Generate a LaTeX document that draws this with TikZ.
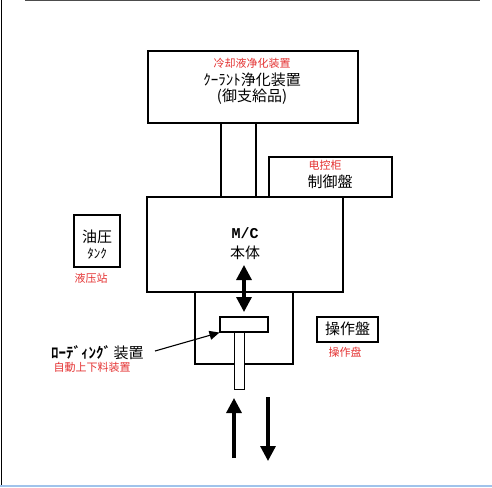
\documentclass[tikz,border=0pt]{standalone}
\usepackage{fontspec}
\setmainfont{Noto Sans CJK JP}
\newfontfamily\jpfont{Noto Sans CJK JP}
\newfontfamily\jpbfont{Noto Sans CJK JP Bold}
\newfontfamily\scfont{Noto Sans CJK SC}
\newfontfamily\monofont{Liberation Mono}
\usetikzlibrary{arrows.meta}
\definecolor{lbl}{RGB}{228,50,50}
\definecolor{edge}{RGB}{160,195,235}
\tikzset{
  box/.style={draw=black, line width=1.1pt, fill=white, inner sep=0pt},
  jtxt/.style={font=\jpfont\fontsize{15}{17}\selectfont, inner sep=0pt},
  ctxt/.style={font=\scfont\fontsize{11}{13}\selectfont, text=lbl, inner sep=0pt},
  bigarrow/.style={line width=3.2pt, -{Triangle[length=15pt,width=15pt]}},
  dblarrow/.style={line width=3.2pt, {Triangle[length=15pt,width=15pt]}-{Triangle[length=15pt,width=15pt]}},
  thinarrow/.style={line width=1.1pt, -{Triangle[length=10pt,width=9pt]}}
}
\begin{document}
\begin{tikzpicture}[x=1pt,y=-1pt]
\useasboundingbox (0,0) rectangle (492,487);
% frame remnants
\draw[line width=1.2pt] (1.5,0) -- (1.5,487);
\draw[line width=1pt, black!70] (25,0.5) -- (480,0.5);
\draw[line width=1.2pt, edge] (0,486) -- (492,486);
% boxes
\node[box, minimum width=35pt, minimum height=74pt] (pipe) at (238.5,160) {};
\node[box, minimum width=210pt, minimum height=72pt] (cool) at (253,87) {};
\node[box, minimum width=123pt, minimum height=40pt] (ctrl) at (330.5,177) {};
\node[box, minimum width=98pt, minimum height=72pt] (frame) at (244,328) {};
\node[box, minimum width=196pt, minimum height=95pt] (mc) at (245,244.5) {};
\node[box, minimum width=48pt, minimum height=15pt] (platen) at (244,324.5) {};
\node[box, line width=0.8pt, minimum width=10pt, minimum height=57pt] (rod) at (239,360.5) {};
\draw[line width=1.1pt] (platen.south west) -- (platen.south east);
\node[box, minimum width=46pt, minimum height=52pt] (tank) at (97,241) {};
\node[box, minimum width=61pt, minimum height=25pt] (panel) at (347.5,329.5) {};
% texts
\node[ctxt] (t1) at (252,63) {冷却液净化装置};
\node[jtxt] (t2) at (252,80) {ｸｰﾗﾝﾄ浄化装置};
\node[jtxt] (t3) at (252,97) {(御支給品)};
\node[ctxt] (t4) at (325,165) {电控柜};
\node[jtxt] (t5) at (330,182) {制御盤};
\node[font=\monofont\bfseries\fontsize{15}{17}\selectfont, inner sep=0pt] (t6) at (245,233) {M/C};
\node[jtxt] (t7) at (245,253) {本体};
\node[jtxt] (t8) at (97,237) {油圧};
\node[jtxt, font=\jpfont\fontsize{13}{15}\selectfont] (t9) at (97,254) {ﾀﾝｸ};
\node[ctxt] (t10) at (91,278) {液压站};
\node[jtxt] (t11) at (347.5,329) {操作盤};
\node[ctxt] (t12) at (345,352) {操作盘};
\node[font=\jpbfont\fontsize{15}{17}\selectfont, inner sep=0pt, anchor=west] (load) at (51,353) {ﾛｰﾃﾞｨﾝｸﾞ\,\jpfont 装置};
\node[ctxt] (t13) at (92,367) {自動上下料装置};
% arrows
\coordinate (d1) at (244,265);
\coordinate (d2) at (244,312);
\draw[dblarrow] (d1) -- (d2);
\coordinate (ls) at (155,351);
\draw[thinarrow] (ls) -- (platen.south west);
\coordinate (u1) at (234,458);
\coordinate (u2) at (234,398);
\draw[bigarrow] (u1) -- (u2);
\coordinate (w1) at (268,397);
\coordinate (w2) at (268,461);
\draw[bigarrow] (w1) -- (w2);
\end{tikzpicture}
\end{document}
